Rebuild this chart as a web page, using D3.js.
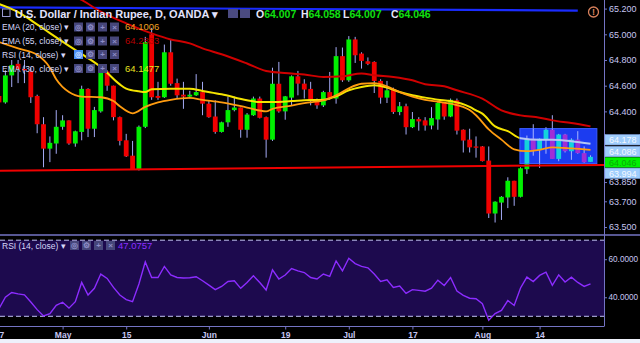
<!DOCTYPE html>
<html><head><meta charset="utf-8">
<script src="https://cdn.jsdelivr.net/npm/d3@7"></script>
<style>html,body{margin:0;padding:0;background:#000;overflow:hidden}svg{display:block}</style>
</head><body>
<svg id="c" width="640" height="343"></svg>
<script>
// ---------- DATA ----------
const opens  = [64.52,64.47,64.68,64.77,64.73,64.71,64.52,64.30,64.11,64.15,64.28,64.33,64.15,64.24,64.575,64.265,64.40,64.71,64.60,64.355,64.175,64.055,63.95,64.28,65.00,64.52,64.51,64.86,64.62,64.53,64.515,64.525,64.55,64.46,64.36,64.24,64.315,64.41,64.43,64.257,64.37,64.50,64.355,64.18,64.615,64.40,64.507,64.673,64.616,64.575,64.487,64.447,64.55,64.50,64.83,64.642,64.96,64.85,64.79,64.785,64.637,64.507,64.57,64.395,64.44,64.277,64.34,64.33,64.29,64.337,64.465,64.36,64.486,64.257,64.18,64.127,64.127,64.017,63.605,63.69,63.73,63.86,63.735,63.95,64.187,64.10,64.18,64.257,64.03,64.22,64.09,64.18,64.075,64.007];
const highs  = [64.55,64.72,64.80,64.80,64.80,64.74,64.53,64.355,64.205,64.41,64.37,64.33,64.25,64.60,64.58,64.435,64.72,64.72,64.60,64.36,64.225,64.17,64.29,64.98,65.05,64.63,64.92,64.96,64.655,64.63,64.56,64.69,64.63,64.486,64.486,64.32,64.515,64.515,64.43,64.387,64.515,64.515,64.36,64.74,64.785,64.52,64.68,64.715,64.65,64.63,64.50,64.56,64.707,64.90,64.897,64.986,64.98,64.86,64.82,64.79,64.65,64.637,64.585,64.473,64.46,64.395,64.355,64.355,64.433,64.47,64.47,64.50,64.50,64.26,64.265,64.205,64.13,64.127,63.70,63.74,63.887,63.86,63.965,64.212,64.30,64.19,64.277,64.37,64.225,64.225,64.19,64.246,64.127,64.058];
const lows   = [64.45,64.46,64.59,64.62,64.62,64.465,64.23,63.965,64.005,64.07,64.257,64.14,64.125,64.175,64.20,64.20,64.39,64.56,64.33,64.135,64.045,63.95,63.94,64.27,64.49,64.49,64.505,64.60,64.50,64.42,64.50,64.52,64.37,64.35,64.226,64.235,64.28,64.40,64.195,64.195,64.365,64.345,64.04,64.17,64.39,64.335,64.447,64.525,64.50,64.447,64.42,64.434,64.49,64.46,64.63,64.63,64.777,64.733,64.76,64.543,64.46,64.465,64.38,64.37,64.22,64.27,64.25,64.25,64.26,64.257,64.335,64.355,64.22,64.08,64.08,64.04,64.01,63.57,63.535,63.555,63.647,63.665,63.73,63.913,64.055,63.96,64.07,64.03,64.012,64.08,64.023,64.07,64.00,64.007];
const closes = [64.47,64.68,64.76,64.73,64.72,64.51,64.30,64.11,64.155,64.28,64.33,64.15,64.245,64.575,64.265,64.41,64.71,64.60,64.355,64.17,64.05,63.95,64.28,64.94,64.51,64.505,64.86,64.615,64.525,64.515,64.53,64.55,64.46,64.355,64.24,64.315,64.41,64.43,64.257,64.375,64.50,64.35,64.18,64.615,64.40,64.517,64.673,64.616,64.57,64.487,64.447,64.55,64.50,64.83,64.642,64.96,64.837,64.793,64.77,64.637,64.507,64.564,64.395,64.44,64.277,64.34,64.322,64.29,64.348,64.465,64.36,64.49,64.25,64.173,64.12,64.117,64.013,63.605,63.697,63.735,63.86,63.735,63.957,64.187,64.10,64.187,64.257,64.03,64.22,64.09,64.18,64.075,64.004,64.046];

// EMA samples: bar index and value
const ema20Idx = [0,3,6,8,9,11,13,16,18,19,21,23,25,27,30,32,35,39,42,43,46,48,51,53,55,57,59,61,63,65,67,69,71,74,75,77,79,81,83,85,87,90,93];
const ema20    = [64.94,64.89,64.84,64.74,64.65,64.55,64.515,64.51,64.48,64.44,64.385,64.435,64.47,64.49,64.505,64.49,64.47,64.43,64.40,64.42,64.445,64.465,64.485,64.525,64.58,64.615,64.62,64.595,64.55,64.515,64.49,64.475,64.46,64.41,64.37,64.26,64.18,64.105,64.09,64.10,64.12,64.112,64.1006];
const ema30Idx = [0,3,5,8,11,14,16,19,20,22,23,24,27,30,32,35,39,41,43,46,48,51,53,55,57,59,61,63,65,67,69,71,74,75,76,78,80,82,85,87,90,93];
const ema30    = [65.236,65.173,65.111,65.009,64.91,64.815,64.746,64.61,64.577,64.556,64.551,64.572,64.577,64.577,64.559,64.533,64.486,64.473,64.473,64.48,64.486,64.491,64.517,64.564,64.59,64.603,64.585,64.551,64.525,64.507,64.491,64.48,64.435,64.408,64.382,64.283,64.246,64.191,64.179,64.179,64.168,64.1477];
const ema55Idx = [10,13,16,20,24,27,30,32,35,39,42,46,48,51,54,57,59,62,65,67,70,72,76,79,82,85,87,90,93];
const ema55    = [65.34,65.267,65.176,65.085,65.007,64.96,64.929,64.89,64.845,64.773,64.715,64.695,64.687,64.668,64.673,64.695,64.681,64.668,64.642,64.611,64.595,64.564,64.499,64.408,64.369,64.351,64.33,64.309,64.2833];

const rsi = [34,40,42.5,41.8,41.3,37.5,33.5,30.2,31.4,35.8,37.4,34.3,37.7,47.8,41.2,44.7,52.2,49.9,45.2,41.2,38.8,37.7,47,58.6,50.4,50.4,56.2,51.7,50.4,50.1,50.3,50.8,48.7,46.4,44,45.7,48.3,48.7,44.7,47.8,51.3,47.8,43.8,54.4,49.6,51.7,55.1,53.9,53,50.4,49.6,52.2,51,59.1,53.9,60.5,57.7,56.2,55.5,52.2,48.3,49.2,45.2,45.9,42,44,43.6,43.2,44.8,49,46.2,50.4,43.3,41,39.5,39.2,36.6,27.9,31.4,33.1,38.3,35.7,44.9,50.6,48.3,51.5,53.2,46.3,51.8,48,50.6,47.8,45.7,47.0757];

const priceTicks = [65.2,65.0,64.8,64.6,64.4,63.85,63.7,63.5];
const rsiTicks = [60,40];
const rsiBands = [70,30];
const dateTickIdx = [0,10,20,33,45,55,65,76,85];
const dateTickLabels = ["17","May","15","Jun","19","Jul","17","Aug","14"];
const priceLabels = [64.178,64.086,64.046,63.994];
const priceLabelKinds = ["blue","blue","green","blue"];
const trendIdx = [-1,96], trendPrice = [63.938,63.984];
const blueLineIdx = [-1,91], blueLinePrice = [65.21,65.185];
const boxIdx = [81.9,94.0], boxPrice = [64.266,63.994];

// ---------- SCALES ----------
const svg = d3.select("#c");
const axisX = 604;
const x = d3.scaleLinear().domain([0,93]).range([-1,590.5]);
const y = d3.scaleLinear().domain([63.5,65.0]).range([227,34.3]);
const yr = d3.scaleLinear().domain([30,70]).range([316.3,240.2]);
const FONT = "'Liberation Sans', Arial, sans-serif";
const AX = "#c6c6f2", AXL = "#7474c4";

svg.append("rect").attr("width",640).attr("height",343).attr("fill","#000");
const defs = svg.append("defs");
defs.append("clipPath").attr("id","cm").append("rect").attr("x",0).attr("y",0).attr("width",axisX).attr("height",234);
defs.append("clipPath").attr("id","cr").append("rect").attr("x",0).attr("y",236).attr("width",axisX).attr("height",90);
const bx0=x(boxIdx[0]), bx1=x(boxIdx[1]), by0=y(boxPrice[0]), by1=y(boxPrice[1]);
defs.append("clipPath").attr("id","cb").append("rect").attr("x",bx0).attr("y",by0).attr("width",bx1-bx0).attr("height",by1-by0);

const bars = d3.range(opens.length).map(i=>({i,o:opens[i],h:highs[i],l:lows[i],c:closes[i]}));
const main = svg.append("g").attr("clip-path","url(#cm)");

main.append("line").attr("x1",x(blueLineIdx[0])).attr("x2",x(blueLineIdx[1]))
  .attr("y1",y(blueLinePrice[0])).attr("y2",y(blueLinePrice[1])).attr("stroke","#1a2cff").attr("stroke-width",2.2);

function drawCandles(g, up, dn, wick){
  g.selectAll("line.w").data(bars).join("line").attr("class","w")
    .attr("x1",d=>x(d.i)).attr("x2",d=>x(d.i)).attr("y1",d=>y(d.h)).attr("y2",d=>y(d.l))
    .attr("stroke",wick).attr("stroke-width",1);
  g.selectAll("rect.b").data(bars).join("rect").attr("class","b")
    .attr("x",d=>x(d.i)-2.4).attr("width",4.8)
    .attr("y",d=>y(Math.max(d.o,d.c))).attr("height",d=>Math.max(1.2,Math.abs(y(d.o)-y(d.c))))
    .attr("fill",d=>d.c>=d.o?up:dn);
}
drawCandles(main.append("g"),"#00f000","#f00000","#a4aaf4");

const line = d3.line().x(d=>x(d[0])).y(d=>y(d[1])).curve(d3.curveMonotoneX);
const e20 = ema20Idx.map((k,j)=>[k,ema20[j]]);
const e30 = ema30Idx.map((k,j)=>[k,ema30[j]]);
const e55 = ema55Idx.map((k,j)=>[k,ema55[j]]);
main.append("path").datum(e55).attr("d",line).attr("fill","none").attr("stroke","#d00000").attr("stroke-width",2);
main.append("path").datum(e30).attr("d",line).attr("fill","none").attr("stroke","#f4e400").attr("stroke-width",2);

main.append("rect").attr("x",bx0).attr("y",by0).attr("width",bx1-bx0).attr("height",by1-by0)
  .attr("fill","#1c3cf0").attr("stroke","#3b5cff").attr("stroke-width",1);
const inBox = main.append("g").attr("clip-path","url(#cb)");
drawCandles(inBox.append("g"),"#14d2dc","#a02ed6","#a8b4ff");
inBox.append("path").datum(e30).attr("d",line).attr("fill","none").attr("stroke","#b4c6f2").attr("stroke-width",2);

main.append("path").datum(e20).attr("d",line).attr("fill","none").attr("stroke","#ff9c10").attr("stroke-width",1.8);

main.append("line").attr("x1",x(trendIdx[0])).attr("x2",x(trendIdx[1]))
  .attr("y1",y(trendPrice[0])).attr("y2",y(trendPrice[1])).attr("stroke","#f00000").attr("stroke-width",2);

// ---------- RSI pane ----------
const rp = svg.append("g").attr("clip-path","url(#cr)");
rp.append("rect").attr("x",0).attr("width",axisX).attr("y",yr(rsiBands[0])).attr("height",yr(rsiBands[1])-yr(rsiBands[0])).attr("fill","#1d0a4e");
rsiBands.forEach(b=>rp.append("line").attr("x1",0).attr("x2",axisX).attr("y1",yr(b)).attr("y2",yr(b))
  .attr("stroke","#c0c0f4").attr("stroke-width",1).attr("stroke-dasharray","5,3"));
const rline = d3.line().x((d,i)=>x(i)).y(d=>yr(d));
rp.append("path").datum(rsi).attr("d",rline).attr("fill","none").attr("stroke","#8c2cff").attr("stroke-width",1.4);

svg.append("line").attr("x1",0).attr("x2",640).attr("y1",235).attr("y2",235).attr("stroke",AXL).attr("stroke-width",1.6);
svg.append("line").attr("x1",axisX+0.5).attr("x2",axisX+0.5).attr("y1",0).attr("y2",326.5).attr("stroke",AXL).attr("stroke-width",1);

// ---------- AXES ----------
const pa = svg.append("g").attr("transform",`translate(${axisX},0)`)
  .call(d3.axisRight(y).tickValues(priceTicks).tickFormat(d3.format(".3f")).tickSize(3).tickPadding(2));
const ra = svg.append("g").attr("transform",`translate(${axisX},0)`)
  .call(d3.axisRight(yr).tickValues(rsiTicks).tickFormat(d=>d.toFixed(4)).tickSize(3).tickPadding(1.5));
const da = svg.append("g").attr("transform",`translate(0,326.5)`)
  .call(d3.axisBottom(x).tickValues(dateTickIdx).tickFormat((d,i)=>dateTickLabels[i]).tickSize(3).tickPadding(2));
[pa,ra,da].forEach(a=>{
  a.select(".domain").attr("stroke",AXL);
  a.selectAll(".tick line").attr("stroke",AXL);
  a.selectAll("text").attr("fill",AX).style("font-family",FONT).style("font-size","9px");
});
pa.select(".domain").remove(); ra.select(".domain").remove();
ra.selectAll("text").style("font-size","8.2px");
da.select(".domain").attr("d",`M0,0H${axisX}`);
da.selectAll("text").style("font-size","8.5px").style("font-weight","bold");
svg.append("rect").attr("x",0).attr("y",339).attr("width",640).attr("height",4).attr("fill","#eef1fb");

// price labels, stacked so they do not overlap
let prev = -1e9;
const lg = svg.append("g");
priceLabels.forEach((v,k)=>{
  let cy = Math.max(y(v), prev+10.8); prev = cy;
  const green = priceLabelKinds[k]==="green";
  lg.append("rect").attr("x",axisX+1).attr("y",cy-5.2).attr("width",640-axisX-1).attr("height",10.2)
    .attr("fill",green?"#00f000":"#9fcdfc").attr("stroke",green?"none":"#8ab0f0").attr("stroke-width",0.6);
  lg.append("text").attr("x",axisX+5).attr("y",cy+3.2).text(v.toFixed(3))
    .attr("fill",green?"#08a808":"#f4f8ff").style("font-family",FONT).style("font-size","9px");
});

svg.append("circle").attr("cx",593.5).attr("cy",12).attr("r",5).attr("fill","none").attr("stroke","#d8805c").attr("stroke-width",1.3);
svg.append("text").attr("x",593.5).attr("y",15.3).attr("text-anchor","middle").text("!")
  .attr("fill","#d8805c").style("font-family",FONT).style("font-size","9px").style("font-weight","bold");

// ---------- TITLE & LEGENDS ----------
const T = svg.append("g").style("font-family",FONT);
T.append("rect").attr("x",2.5).attr("y",9).attr("width",7.5).attr("height",7.5).attr("fill","none").attr("stroke","#9a9ad0");
T.append("text").attr("x",15).attr("y",17.5).text("U.S. Dollar / Indian Rupee, D, OANDA \u25BE")
  .attr("fill","#e2e2fc").style("font-size","11px").style("font-weight","bold");
[228,240].forEach(xx=>T.append("rect").attr("x",xx).attr("y",9).attr("width",10).attr("height",9).attr("fill","#4b4b80"));
const ohlcLab = ["O","H","L","C"], ohlcVal=[opens[93],highs[93],lows[93],closes[93]], ohlcX=[256,301,343,391];
ohlcLab.forEach((l,k)=>{
  const t = T.append("text").attr("x",ohlcX[k]).attr("y",17.5).style("font-size","10.5px").style("font-weight","bold");
  t.append("tspan").text(l).attr("fill","#e6e6fa");
  t.append("tspan").text(ohlcVal[k].toFixed(3)).attr("fill","#10e010");
});

function legend(yb, label, value, vcolor, highlight, iconX, valX){
  T.append("text").attr("x",2).attr("y",yb).text(label+" \u25BE").attr("fill","#d6d6f8").style("font-size","8.5px");
  const glyph=["\u25CE","\u2699","+","\u00D7"];
  iconX.forEach((ix,k)=>{
    T.append("rect").attr("x",ix).attr("y",yb-7.5).attr("width",9).attr("height",9)
      .attr("fill",(highlight&&k===0)?"#4a8cf5":"#46467a");
    T.append("text").attr("x",ix+4.5).attr("y",yb-0.3).attr("text-anchor","middle").text(glyph[k])
      .attr("fill",(highlight&&k===0)?"#c8e0ff":"#8e8ec8").style("font-size","8px").style("font-weight","bold");
  });
  if(value!==null) T.append("text").attr("x",valX).attr("y",yb).text(value).attr("fill",vcolor).style("font-size","9.5px");
}
const mainIcons=[74,86,98,110];
legend(30,"EMA (20, close)",ema20[ema20.length-1].toFixed(4),"#eea020",false,mainIcons,125);
legend(44,"EMA (55, close)",ema55[ema55.length-1].toFixed(4),"#b40000",false,mainIcons,125);
legend(57.5,"RSI (14, close)",null,null,true,mainIcons,125);
legend(71.5,"EMA (30, close)",ema30[ema30.length-1].toFixed(4),"#e8e020",false,mainIcons,125);
legend(248.5,"RSI (14, close)",rsi[rsi.length-1].toFixed(4),"#8c30ff",false,[70,82,94,106],118);
</script>
</body></html>
